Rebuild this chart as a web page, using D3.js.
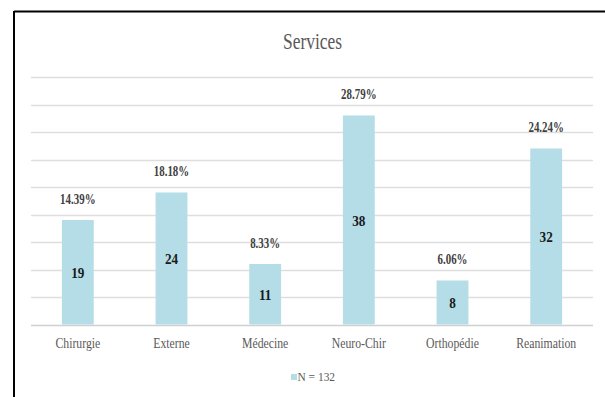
<!DOCTYPE html>
<html>
<head>
<meta charset="utf-8">
<script src="https://cdn.jsdelivr.net/npm/d3@7"></script>
<style>
  body { margin: 0; background: #fff; }
  svg text { font-family: "Liberation Serif", "Times New Roman", Times, "DejaVu Serif", serif; }
</style>
</head>
<body>
<div id="chart"></div>
<script>
const services = ["Chirurgie", "Externe", "Médecine", "Neuro-Chir", "Orthopédie", "Reanimation"];
const counts = [19, 24, 11, 38, 8, 32];
const percents = ["14.39%", "18.18%", "8.33%", "28.79%", "6.06%", "24.24%"];
const gridTicks = [0, 5, 10, 15, 20, 25, 30, 35, 40, 45];
const legendLabel = "N = 132";

const width = 605, height = 397;

const svg = d3.select("#chart").append("svg")
    .attr("width", width)
    .attr("height", height);

// text in the picture is narrow and tall, so squeeze it sideways
function place(sel, fx, fy, sx) {
    sel.attr("transform", function (d, i) {
        return "translate(" + fx(d, i) + "," + fy(d, i) + ") scale(" + sx + ",1)";
    });
}

// frame (top and left edges visible)
svg.append("line")
    .attr("x1", 14).attr("x2", width).attr("y1", 11.5).attr("y2", 11.5)
    .attr("stroke", "#000").attr("stroke-width", 2);
svg.append("line")
    .attr("x1", 14).attr("x2", 14).attr("y1", 11).attr("y2", height)
    .attr("stroke", "#000").attr("stroke-width", 2);

let x = d3.scaleBand()
    .domain(services)
    .range([31, 593])
    .paddingInner(0.66)
    .paddingOuter(0.33);

let y = d3.scaleLinear()
    .domain([0, 45])
    .range([324.5, 77]);

let title = svg.append("text")
    .text("Services")
    .attr("text-anchor", "middle")
    .attr("font-size", "23px")
    .attr("fill", "#595959");
place(title, () => 312.5, () => 49, 0.76);

svg.selectAll("line.grid")
    .data(gridTicks)
    .enter()
    .append("line")
    .attr("class", "grid")
    .attr("x1", 31)
    .attr("x2", 593)
    .attr("y1", function (d) { return Math.round(y(d)) + 0.5; })
    .attr("y2", function (d) { return Math.round(y(d)) + 0.5; })
    .attr("stroke", function (d) { return d === 0 ? "#d0d0d0" : "#dedede"; })
    .attr("stroke-width", 1.3);

svg.selectAll("rect.bar")
    .data(counts)
    .enter()
    .append("rect")
    .attr("class", "bar")
    .attr("x", function (d, i) { return x(services[i]); })
    .attr("y", function (d) { return y(d); })
    .attr("width", x.bandwidth())
    .attr("height", function (d) { return y(0) - y(d); })
    .attr("fill", "#b4dde7");

let countLabels = svg.selectAll("text.count")
    .data(counts)
    .enter()
    .append("text")
    .attr("class", "count")
    .text(function (d) { return d; })
    .attr("text-anchor", "middle")
    .attr("font-weight", "bold")
    .attr("font-size", "15px")
    .attr("fill", "#1a1a1a");
place(countLabels,
    function (d, i) { return x(services[i]) + x.bandwidth() / 2; },
    function (d) { return (y(d) + y(0)) / 2 + 5.5; }, 0.88);

let pctLabels = svg.selectAll("text.pct")
    .data(percents)
    .enter()
    .append("text")
    .attr("class", "pct")
    .text(function (d) { return d; })
    .attr("text-anchor", "middle")
    .attr("font-weight", "bold")
    .attr("font-size", "14px")
    .attr("fill", "#404040");
place(pctLabels,
    function (d, i) { return x(services[i]) + x.bandwidth() / 2; },
    function (d, i) { return y(counts[i]) - 16.5; }, 0.78);

let catLabels = svg.selectAll("text.cat")
    .data(services)
    .enter()
    .append("text")
    .attr("class", "cat")
    .text(function (d) { return d; })
    .attr("text-anchor", "middle")
    .attr("font-size", "14px")
    .attr("fill", "#595959");
place(catLabels,
    function (d) { return x(d) + x.bandwidth() / 2; },
    function () { return 347.5; }, 0.84);

// legend
svg.append("rect")
    .attr("x", 291)
    .attr("y", 374)
    .attr("width", 6)
    .attr("height", 6)
    .attr("fill", "#b4dde7");
let legendText = svg.append("text")
    .text(legendLabel)
    .attr("font-size", "13px")
    .attr("fill", "#595959");
place(legendText, () => 297.5, () => 381, 0.88);
</script>
</body>
</html>
